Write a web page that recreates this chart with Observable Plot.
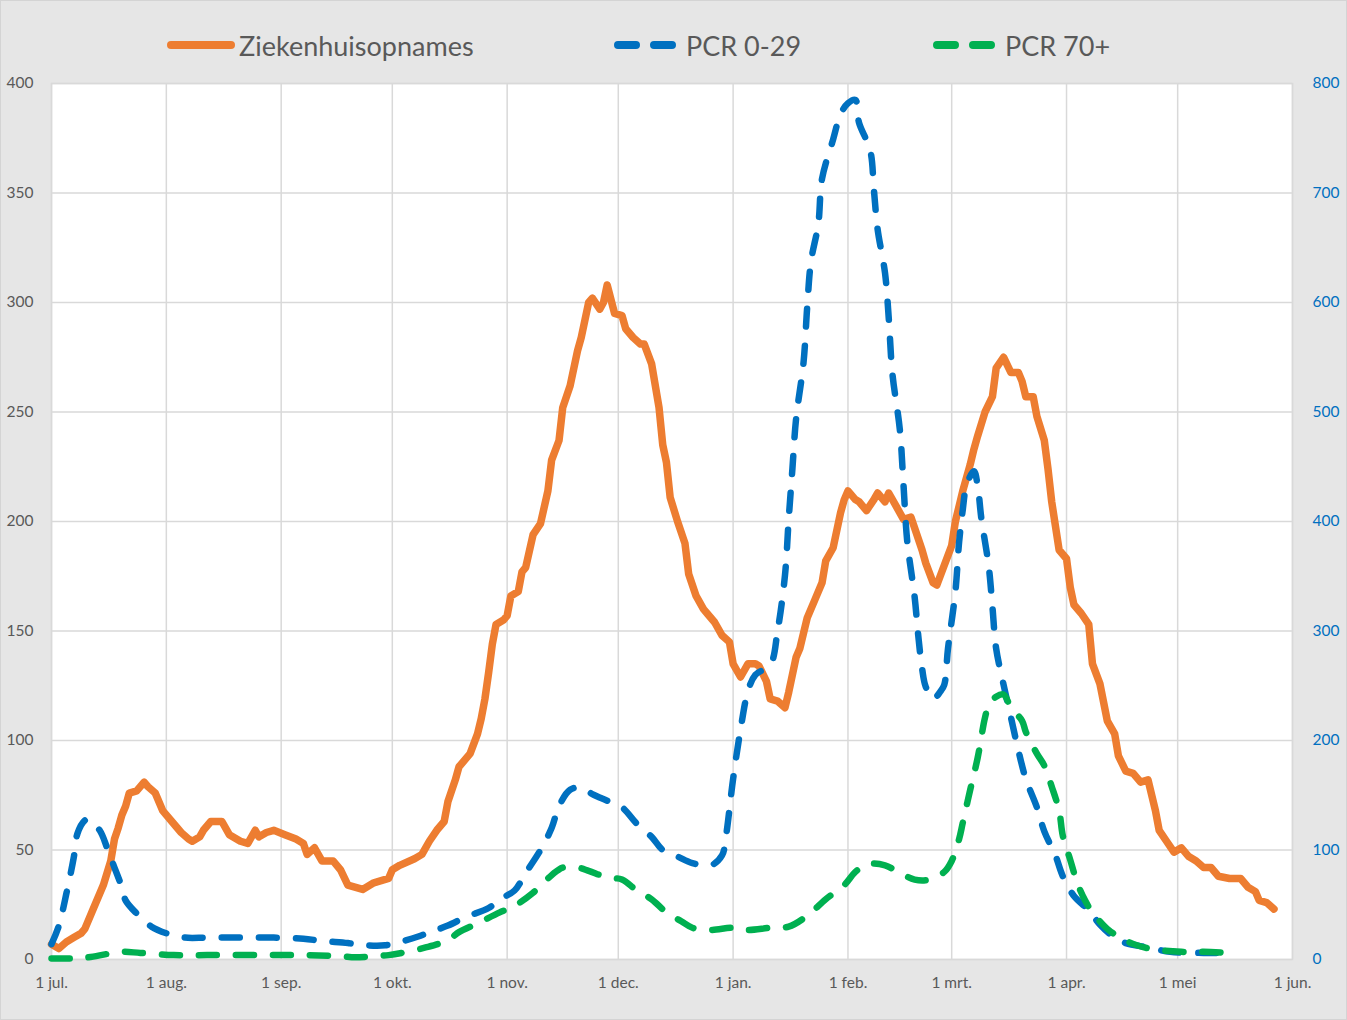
<!DOCTYPE html>
<html>
<head>
<meta charset="utf-8">
<script src="https://cdn.jsdelivr.net/npm/d3@7"></script>
<script src="https://cdn.jsdelivr.net/npm/@observablehq/plot@0.6"></script>
<style>
  html, body { margin: 0; padding: 0; background: #e6e6e6; }
  #wrap { position: relative; width: 1347px; height: 1020px; background: #e6e6e6; box-sizing: border-box; border: 1px solid #d4d4d4; overflow: hidden; }
  #legend { position: relative; height: 67px; font-family: Lato, "Open Sans", sans-serif; color: #595959; font-size: 27px; }
  .item { position: absolute; top: 28px; display: flex; align-items: center; height: 32px; }
  .item svg { margin-right: 4px; }
  #chart { position: absolute; left: 0; top: 67px; }
</style>
</head>
<body>
<div id="wrap">
  <div id="legend"></div>
  <div id="chart"></div>
</div>
<script>
// Days since 1 July 2020, value (left axis: Ziekenhuisopnames)
const hospitalisations = [[0,7],[2,5],[4,8],[6,10],[8,12],[9,14],[11,22],[13,30],[14,34],[16,45],[17,55],[18,60],[19,66],[20,70],[21,76],[23,77],[25,81],[26,79],[28,76],[30,68],[33,62],[35,58],[37,55],[38,54],[40,56],[41,59],[43,63],[46,63],[48,57],[51,54],[53,53],[55,59],[56,56],[58,58],[60,59],[63,57],[66,55],[68,53],[69,48],[71,51],[73,45],[76,45],[78,41],[80,34],[84,32],[87,35],[89,36],[91,37],[92,41],[94,43],[98,46],[100,48],[102,54],[104,59],[106,63],[107,72],[109,82],[110,88],[113,94],[115,103],[116,110],[117,119],[118,131],[119,144],[120,153],[122,155],[123,157],[124,166],[126,168],[127,177],[128,179],[130,194],[132,199],[134,214],[135,228],[137,237],[138,252],[140,262],[142,278],[143,284],[145,300],[146,302],[148,297],[149,300],[150,308],[152,295],[154,294],[155,288],[157,284],[159,281],[160,281],[162,272],[164,252],[165,235],[166,227],[167,211],[169,200],[171,190],[172,176],[174,166],[176,160],[177,158],[179,154],[181,148],[183,145],[184,135],[186,129],[188,135],[190,135],[191,134],[193,127],[194,119],[196,118],[198,115],[199,122],[201,138],[202,142],[204,156],[206,164],[208,172],[209,182],[211,188],[213,204],[214,210],[215,214],[217,210],[218,209],[220,205],[222,210],[223,213],[225,209],[226,213],[228,207],[230,201],[232,202],[234,192],[235,187],[236,181],[238,172],[239,171],[241,180],[243,189],[244,200],[246,214],[248,226],[249,233],[250,239],[252,250],[254,257],[255,270],[257,275],[259,268],[261,268],[262,264],[263,257],[265,257],[266,248],[268,237],[269,224],[270,209],[272,187],[274,183],[275,170],[276,162],[278,158],[280,153],[281,135],[283,126],[285,109],[287,103],[288,93],[290,86],[292,85],[294,81],[296,82],[298,68],[299,59],[301,54],[303,49],[305,51],[307,47],[309,45],[311,42],[313,42],[315,38],[318,37],[321,37],[323,33],[325,31],[326,27],[328,26],[330,23]];

// Days since 1 July 2020, value (right axis)
const pcr029 = [[0,14],[2,31],[4,60],[6,93],[7,115],[9,127],[10,128],[13,118],[15,102],[17,84],[19,66],[20,54],[23,42],[27,30],[31,24],[36,20],[42,20],[51,20],[60,20],[68,19],[73,17],[80,15],[85,13],[90,13],[94,16],[99,21],[103,26],[107,31],[112,39],[118,47],[121,55],[125,63],[128,79],[132,100],[135,120],[137,140],[140,155],[143,157],[146,151],[150,145],[154,139],[158,124],[162,112],[165,100],[169,94],[173,88],[178,86],[181,95],[182,111],[184,165],[186,210],[188,245],[190,260],[194,269],[196,300],[198,351],[199,402],[200,448],[201,494],[203,545],[204,596],[205,637],[207,672],[208,713],[211,749],[213,772],[215,782],[217,785],[218,764],[221,739],[222,703],[223,667],[225,627],[226,586],[227,535],[229,484],[230,433],[231,382],[233,331],[234,295],[235,266],[236,249],[238,238],[240,245],[241,251],[242,284],[244,336],[245,381],[246,411],[247,433],[249,446],[250,433],[251,403],[253,359],[254,322],[255,284],[257,251],[259,221],[261,191],[263,165],[266,139],[268,117],[271,95],[273,76],[276,58],[280,45],[283,32],[287,20],[290,15],[296,11],[302,7],[311,6],[319,6]];

const pcr70 = [[0,1],[6,1],[10,2],[15,5],[19,7],[24,6],[33,4],[42,4],[60,4],[69,4],[78,3],[82,2],[87,3],[91,4],[96,7],[101,11],[105,15],[108,20],[110,25],[115,33],[121,43],[125,49],[130,61],[135,77],[138,84],[142,84],[145,81],[150,75],[154,73],[158,63],[162,55],[166,43],[170,35],[173,29],[178,27],[184,29],[188,27],[194,29],[199,30],[204,40],[209,55],[214,68],[217,80],[220,87],[225,86],[228,81],[233,73],[237,73],[241,80],[243,90],[245,110],[246,125],[248,155],[250,184],[252,221],[253,232],[255,240],[257,242],[259,230],[262,218],[263,208],[266,188],[268,177],[270,158],[272,136],[273,113],[275,91],[277,69],[279,54],[281,43],[285,28],[289,19],[293,13],[298,9],[305,7],[311,7],[319,6]];

const leftTicks = [0, 50, 100, 150, 200, 250, 300, 350, 400];
const rightTicks = [0, 100, 200, 300, 400, 500, 600, 700, 800];
const monthStarts = ["2020-07-01","2020-08-01","2020-09-01","2020-10-01","2020-11-01","2020-12-01","2021-01-01","2021-02-01","2021-03-01","2021-04-01","2021-05-01","2021-06-01"];
const monthLabels = ["1 jul.","1 aug.","1 sep.","1 okt.","1 nov.","1 dec.","1 jan.","1 feb.","1 mrt.","1 apr.","1 mei","1 jun."];
const seriesNames = ["Ziekenhuisopnames", "PCR 0-29", "PCR 70+"];
const seriesColors = ["#ED7D31", "#0070C0", "#00B050"];

const start = Date.UTC(2020, 6, 1);
const toDate = d => new Date(start + d * 864e5);
const monthDates = monthStarts.map(s => new Date(s + "T00:00:00Z"));
const labelOf = new Map(monthDates.map((d, i) => [+d, monthLabels[i]]));
const rightLabelOf = new Map(leftTicks.map((t, i) => [t, String(rightTicks[i])]));

const hosp = hospitalisations.map(([d, v]) => ({date: toDate(d), v}));
const young = pcr029.map(([d, v]) => ({date: toDate(d), v: v / 2}));   // right axis is 2x left
const old = pcr70.map(([d, v]) => ({date: toDate(d), v: v / 2}));

const font = "Lato, 'Open Sans', sans-serif";
const chart = Plot.plot({
  width: 1345,
  height: 951,
  marginTop: 15,
  marginBottom: 60,
  marginLeft: 50,
  marginRight: 54,
  style: {background: "transparent", fontFamily: font, fontSize: "15px", color: "#595959"},
  x: {type: "utc", domain: [monthDates[0], monthDates[monthDates.length - 1]]},
  y: {domain: [0, 400]},
  marks: [
    Plot.frame({fill: "white", stroke: "#d9d9d9", strokeWidth: 1.5}),
    Plot.ruleY(leftTicks, {stroke: "#d9d9d9", strokeWidth: 1.5}),
    Plot.ruleX(monthDates, {stroke: "#d9d9d9", strokeWidth: 1.5}),
    Plot.axisY({ticks: leftTicks, tickSize: 0, tickPadding: 18, label: null, fill: "#595959", fontSize: 15.5}),
    Plot.axisY({anchor: "right", ticks: leftTicks, tickFormat: (d) => rightLabelOf.get(d), tickSize: 0, tickPadding: 20, label: null, fill: "#0070C0", fontSize: 15.5}),
    Plot.axisX({ticks: monthDates, tickFormat: d => labelOf.get(+d), tickSize: 0, tickPadding: 17, label: null, fill: "#595959", fontSize: 15.5}),
    Plot.line(hosp, {x: "date", y: "v", stroke: seriesColors[0], strokeWidth: 7.5, strokeLinejoin: "round", strokeLinecap: "round"}),
    Plot.line(young, {x: "date", y: "v", stroke: seriesColors[1], strokeWidth: 6.5, curve: "catmull-rom", strokeDasharray: "18,19", strokeLinecap: "round"}),
    Plot.line(old, {x: "date", y: "v", stroke: seriesColors[2], strokeWidth: 6.5, curve: "catmull-rom", strokeDasharray: "18,19", strokeLinecap: "round"})
  ]
});
document.getElementById("chart").appendChild(chart);

// Legend
const legendPos = [170, 617, 936];
const legend = document.getElementById("legend");
seriesNames.forEach((name, i) => {
  const item = document.createElement("div");
  item.className = "item";
  item.style.left = (legendPos[i] - 4) + "px";
  const dashed = i > 0;
  item.innerHTML = `<svg width="68" height="12"><line x1="4" x2="64" y1="6" y2="6" stroke="${seriesColors[i]}" stroke-width="8" stroke-linecap="round" ${dashed ? 'stroke-dasharray="18,18"' : ''}/></svg><span>${name}</span>`;
  legend.appendChild(item);
});
</script>
</body>
</html>
